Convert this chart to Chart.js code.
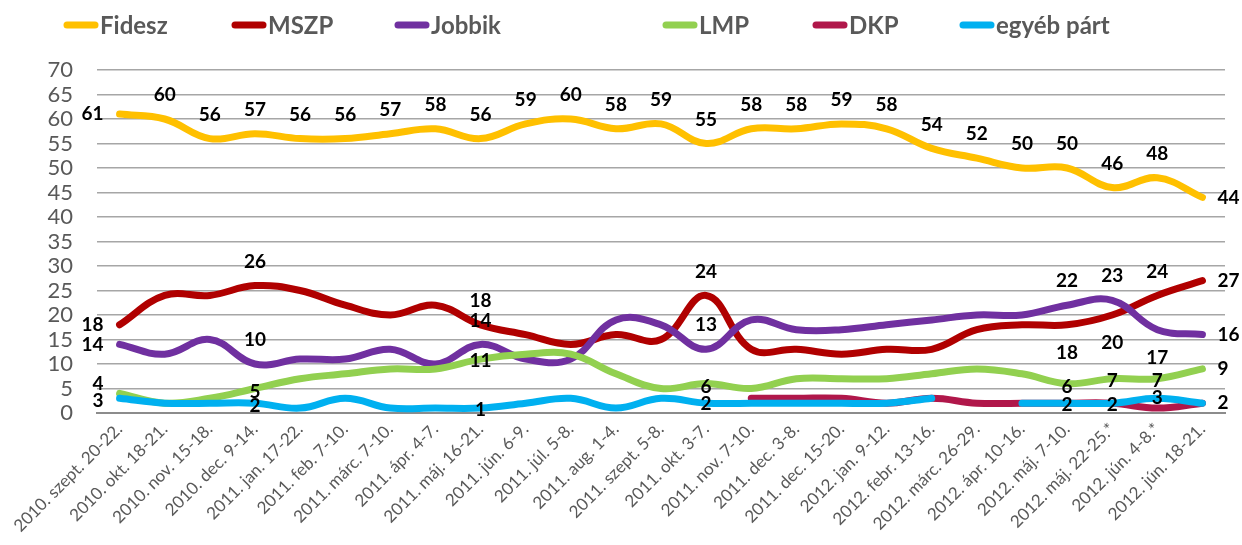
<!DOCTYPE html>
<html>
<head>
<meta charset="utf-8">
<script src="https://cdn.jsdelivr.net/npm/chart.js@4"></script>
<style>
  html, body { margin: 0; padding: 0; background: #ffffff; }
  #wrap { width: 1242px; height: 545px; position: relative; }
</style>
</head>
<body>
<div id="wrap"><canvas id="c" width="1242" height="545"></canvas></div>
<script>
const categories = [
  "2010. szept. 20-22.", "2010. okt. 18-21.", "2010. nov. 15-18.", "2010. dec. 9-14.",
  "2011. jan. 17-22.", "2011. feb. 7-10.", "2011. márc. 7-10.", "2011. ápr. 4-7.",
  "2011. máj. 16-21.", "2011. jún. 6-9.", "2011. júl. 5-8.", "2011. aug. 1-4.",
  "2011. szept. 5-8.", "2011. okt. 3-7.", "2011. nov. 7-10.", "2011. dec. 3-8.",
  "2011. dec. 15-20.", "2012. jan. 9-12.", "2012. febr. 13-16.", "2012. márc. 26-29.",
  "2012. ápr. 10-16.", "2012. máj. 7-10.", "2012. máj. 22-25.*", "2012. jún. 4-8.*",
  "2012. jún. 18-21."
];
const seriesNames = ["Fidesz", "MSZP", "Jobbik", "LMP", "DKP", "egyéb párt"];
const fidesz = [61,60,56,57,56,56,57,58,56,59,60,58,59,55,58,58,59,58,54,52,50,50,46,48,44];
const mszp   = [18,24,24,26,25,22,20,22,18,16,14,16,15,24,13,13,12,13,13,17,18,18,20,24,27];
const jobbik = [14,12,15,10,11,11,13,10,14,11,11,19,18,13,19,17,17,18,19,20,20,22,23,17,16];
const lmp    = [4,2,3,5,7,8,9,9,11,12,12,8,5,6,5,7,7,7,8,9,8,6,7,7,9];
const dkp    = [null,null,null,null,null,null,null,null,null,null,null,null,null,null,3,3,3,2,3,2,2,2,2,1,2];
const egyeb  = [3,2,2,2,1,3,1,1,1,2,3,1,3,2,2,2,2,2,3,null,2,2,2,3,2];
const yTicks = [0,5,10,15,20,25,30,35,40,45,50,55,60,65,70];

const colors = ["#FFC000", "#B00000", "#7030A0", "#92D050", "#B0174A", "#00B0F0"];

// label placement per series: index -> [placement, dy]
const allAbove = {};
for (let i = 0; i < categories.length; i++) allAbove[i] = ["above", 0];
allAbove[0] = ["left", 0];
allAbove[24] = ["right", 0];
const labelSpec = [
  allAbove,
  {0:["left",0], 3:["above",0], 8:["above",0], 13:["above",0], 21:["below",0], 22:["below",0], 23:["above",0], 24:["right",0]},
  {0:["left",0], 3:["above",0], 8:["above",0], 13:["above",0], 21:["above",0], 22:["above",0], 23:["below",0], 24:["right",0]},
  {0:["left",-10], 3:["center",3], 8:["center",2], 13:["center",3], 21:["center",3], 22:["center",2], 23:["center",2], 24:["right",0]},
  {},
  {0:["left",3], 3:["center",3], 8:["center",2], 13:["center",1], 21:["center",2], 22:["center",2], 23:["center",0], 24:["right",0]}
];

const legendX = [64, 232, 395, 663, 813, 960];

const labelPlugin = {
  id: "dataLabels",
  afterDatasetsDraw(chart) {
    const ctx = chart.ctx;
    ctx.save();
    ctx.font = "bold 19px Lato";
    ctx.fillStyle = "#000000";
    ctx.textBaseline = "middle";
    chart.data.datasets.forEach((ds, di) => {
      const meta = chart.getDatasetMeta(di);
      const spec = labelSpec[di];
      Object.keys(spec).forEach(k => {
        const i = +k;
        const v = ds.data[i];
        if (v == null) return;
        const pt = meta.data[i];
        const [pos, dy] = spec[k];
        let x = pt.x, y = pt.y + dy;
        ctx.textAlign = "center";
        if (pos === "above") y -= 24;
        else if (pos === "below") y += 28;
        else if (pos === "left") { ctx.textAlign = "right"; x -= 16; }
        else if (pos === "right") { ctx.textAlign = "left"; x += 15; }
        ctx.fillText(String(v), x, y);
      });
    });
    ctx.restore();
  }
};

const legendPlugin = {
  id: "customLegend",
  afterDraw(chart) {
    const ctx = chart.ctx;
    ctx.save();
    const y = 25;
    chart.data.datasets.forEach((ds, di) => {
      const x = legendX[di];
      ctx.strokeStyle = ds.borderColor;
      ctx.lineWidth = 7;
      ctx.lineCap = "round";
      ctx.beginPath();
      ctx.moveTo(x + 3, y);
      ctx.lineTo(x + 31, y);
      ctx.stroke();
      ctx.fillStyle = "#595959";
      ctx.font = "bold 24px Lato";
      ctx.textAlign = "left";
      ctx.textBaseline = "middle";
      ctx.fillText(ds.label, x + 36, y + 1);
    });
    ctx.restore();
  }
};

const seriesData = [fidesz, mszp, jobbik, lmp, dkp, egyeb];
const datasets = seriesData.map((d, i) => ({
  label: seriesNames[i],
  data: d,
  borderColor: colors[i],
  backgroundColor: colors[i],
  borderWidth: 7,
  tension: 0.4,
  pointRadius: 0,
  pointHoverRadius: 0,
  fill: false,
  spanGaps: false,
  borderCapStyle: "round",
  borderJoinStyle: "round",
  order: 6 - i
}));

new Chart(document.getElementById("c"), {
  type: "line",
  data: { labels: categories, datasets },
  options: {
    responsive: false,
    animation: false,
    events: [],
    layout: { padding: { top: 70, right: 17, left: 0, bottom: 0 } },
    plugins: {
      legend: { display: false },
      tooltip: { enabled: false }
    },
    scales: {
      x: {
        offset: true,
        grid: { display: false, drawTicks: false },
        border: { display: true, color: "#8c8c8c", width: 2 },
        ticks: {
          autoSkip: false,
          maxRotation: 45,
          minRotation: 45,
          padding: 6,
          color: "#595959",
          font: { family: "Lato", size: 17 }
        },
        afterFit(scale) { scale.height = 132; }
      },
      y: {
        min: 0,
        max: 70,
        afterBuildTicks(scale) { scale.ticks = yTicks.map(v => ({ value: v })); },
        grid: { color: "#a6a6a6", lineWidth: 1.5, drawTicks: false },
        border: { display: false },
        ticks: {
          autoSkip: false,
          padding: 24,
          color: "#595959",
          font: { family: "Lato", size: 22 }
        },
        afterFit(scale) { scale.width = 97; }
      }
    }
  },
  plugins: [labelPlugin, legendPlugin]
});
</script>
</body>
</html>
